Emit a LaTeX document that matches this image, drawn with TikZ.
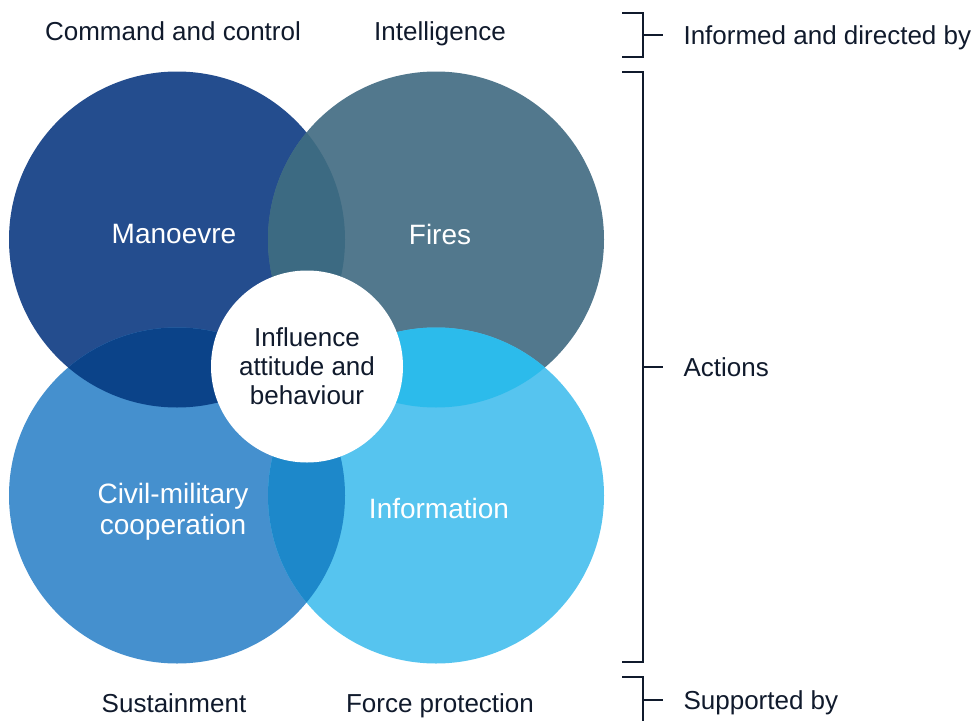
\documentclass[tikz,border=0pt]{standalone}
\usepackage{fontspec}
\setmainfont{Liberation Sans}
\usetikzlibrary{positioning}
\definecolor{ink}{HTML}{101A2C}
\definecolor{manblue}{HTML}{244D8E}
\definecolor{fireslate}{HTML}{52788D}
\definecolor{civblue}{HTML}{4590CE}
\definecolor{infblue}{HTML}{56C4EF}
\definecolor{manfire}{HTML}{3C6A82}
\definecolor{manciv}{HTML}{0B4389}
\definecolor{fireinf}{HTML}{2CBBEB}
\definecolor{civinf}{HTML}{1D88CA}

\begin{document}
\begin{tikzpicture}[x=1pt,y=-1pt,on grid,node distance=256pt and 259pt,
    ring/.style={circle,minimum size=336pt,inner sep=0pt},
    ringtext/.style={text=white,align=center,font=\fontsize{28}{31}\selectfont},
    heading/.style={text=ink,anchor=base,font=\fontsize{26}{30}\selectfont},
    brace/.style={draw=ink,line width=2pt}]
    \useasboundingbox (0,0) rectangle (974,720);
    % circles
    \node[ring,fill=manblue]   (man) at (177,239.5) {};
    \node[ring,fill=fireslate] (fir) [right=of man]  {};
    \node[ring,fill=civblue]   (civ) [below=of man]  {};
    \node[ring,fill=infblue]   (inf) [below=of fir]  {};
    % overlaps
    \begin{scope}
      \clip (man.center) circle[radius=168];
      \fill[manfire] (fir.center) circle[radius=168];
      \fill[manciv]  (civ.center) circle[radius=168];
    \end{scope}
    \begin{scope}
      \clip (inf.center) circle[radius=168];
      \fill[fireinf] (fir.center) circle[radius=168];
      \fill[civinf]  (civ.center) circle[radius=168];
    \end{scope}
    % centre
    \node[circle,fill=white,minimum size=192pt,inner sep=0pt,align=center,
          text=ink,font=\fontsize{26}{29}\selectfont] (hub) at (307,366.5)
          {Influence\\attitude and\\behaviour};
    % circle labels
    \node[ringtext] (manlbl) at (174,234) {Manoevre};
    \node[ringtext] (firlbl) at (440,234) {Fires};
    \node[ringtext] (civlbl) at (173,512) {Civil-military\\cooperation};
    \node[ringtext] (inflbl) at (439,508) {Information};
    % enablers
    \node[heading] (cmd)   at (173,40.5)  {Command and control};
    \node[heading] (intel) at (440,40.5)  {Intelligence};
    \node[heading] (sust)  at (174,712.5) {Sustainment};
    \node[heading] (prot)  at (440,712.5) {Force protection};
    % brackets
    \node[heading,anchor=base west] (infd) at (680,44)  {Informed and directed by};
    \node[heading,anchor=base west] (act)  at (680,376) {Actions};
    \node[heading,anchor=base west] (sup)  at (680,709) {Supported by};
    \draw[brace] (622,13) -| (643,57) -- (622,57);
    \draw[brace] (622,72) -| (643,662) -- (622,662);
    \draw[brace] (622,677) -| (643,722);
    \draw[brace] (643,35)  -- (663,35);
    \draw[brace] (643,367) -- (663,367);
    \draw[brace] (643,700) -- (663,700);
\end{tikzpicture}
\end{document}
